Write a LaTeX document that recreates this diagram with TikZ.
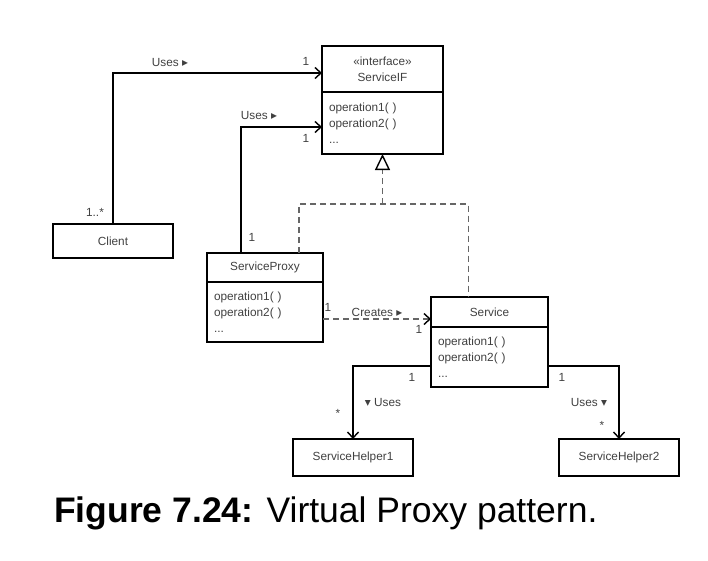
\documentclass[tikz,border=0pt]{standalone}
\usepackage{fontspec}
\setmainfont{Liberation Sans}
\newfontfamily\symbfont{DejaVu Sans}
\usetikzlibrary{arrows.meta,calc,positioning}
\newcommand{\rtri}{{\symbfont\char"25B8}}
\newcommand{\dtri}{{\symbfont\char"25BE}}

\begin{document}
\begin{tikzpicture}[
    x=1pt, y=-1pt,
    every node/.style={font=\fontsize{11.8}{16}\selectfont, text=black!75},
    ctitle/.style={draw=black, line width=1.4pt, inner sep=0pt, outer sep=0pt, align=center},
    cops/.style={draw=black, line width=1.4pt, inner xsep=7pt, inner ysep=0pt, outer sep=0pt, align=left},
    uses/.style={draw=black, line width=1.4pt, -{Straight Barb[length=6pt,width=11pt]}},
    real/.style={draw=black!60, line width=1.6pt, dash pattern=on 6pt off 4pt},
    lbl/.style={inner sep=0pt}
    ]

    \useasboundingbox (0,0) rectangle (708,560);

    % classes
    \node (sif) [ctitle, minimum width=121, minimum height=46] at (382.5,69) {«interface»\\ServiceIF};
    \node (sifops) [cops, below=0pt of sif, minimum height=62, text width=107pt] {operation1( )\\operation2( )\\...};

    \node (client) [ctitle, minimum width=120, minimum height=34] at (113,241) {Client};

    \node (proxy) [ctitle, minimum width=116, minimum height=29] at (265,267.5) {ServiceProxy};
    \node (proxyops) [cops, below=0pt of proxy, minimum height=60, text width=102pt] {operation1( )\\operation2( )\\...};

    \node (service) [ctitle, minimum width=117, minimum height=30] at (489.5,312) {Service};
    \node (serviceops) [cops, below=0pt of service, minimum height=60, text width=103pt] {operation1( )\\operation2( )\\...};

    \node (helperA) [ctitle, minimum width=120, minimum height=37] at (353,457.5) {ServiceHelper1};
    \node (helperB) [ctitle, minimum width=120, minimum height=37] at (619,457.5) {ServiceHelper2};

    % associations
    \draw[uses] (client.north) |- ([yshift=-4pt]sif.west);
    \draw[uses] ([xshift=-24pt]proxy.north) |- ([yshift=-4pt]sifops.west);

    \coordinate (sl) at ([yshift=-9pt]serviceops.west);
    \coordinate (sr) at ([yshift=-9pt]serviceops.east);
    \draw[uses] (sl) -| (helperA.north);
    \draw[uses] (sr) -| (helperB.north);

    % realization and creation
    \coordinate (impl) at ($(sifops.south)+(0,50)$);
    \draw[real] ([xshift=34pt]proxy.north) |- (impl) -| ([xshift=-21pt]service.north);
    \draw[real, -{Triangle[open, color=black, fill=white, length=16pt, width=15pt, line width=1.4pt]}] (impl) -- (sifops.south);

    \coordinate (crs) at ([yshift=-7pt]proxyops.east);
    \draw[real, -{Straight Barb[color=black, length=6pt, width=11pt, line width=1.4pt]}] (crs) -- (crs -| service.west);

    % labels
    \node (u1) [lbl] at (170,62) {Uses \rtri};
    \node (m1) [lbl] at (306,61) {1};
    \node (m2) [lbl] at (95,212) {1..*};
    \node (u2) [lbl] at (259,115) {Uses \rtri};
    \node (m3) [lbl] at (306,138) {1};
    \node (m4) [lbl] at (252,237) {1};
    \node (m5) [lbl] at (328,307) {1};
    \node (c1) [lbl] at (377,312) {Creates \rtri};
    \node (m6) [lbl] at (419,329) {1};
    \node (m7) [lbl] at (412,377) {1};
    \node (u3) [lbl] at (383,402) {\dtri\ Uses};
    \node (m8) [lbl] at (338,413) {*};
    \node (m9) [lbl] at (562,377) {1};
    \node (u4) [lbl] at (589,402) {Uses \dtri};
    \node (m10) [lbl] at (602,425) {*};

    \node (caption) [anchor=base west, inner sep=0pt, text=black, font=\fontsize{35.5}{40}\selectfont] at (54,522) {\textbf{Figure 7.24:} Virtual Proxy pattern.};

  \end{tikzpicture}
\end{document}
